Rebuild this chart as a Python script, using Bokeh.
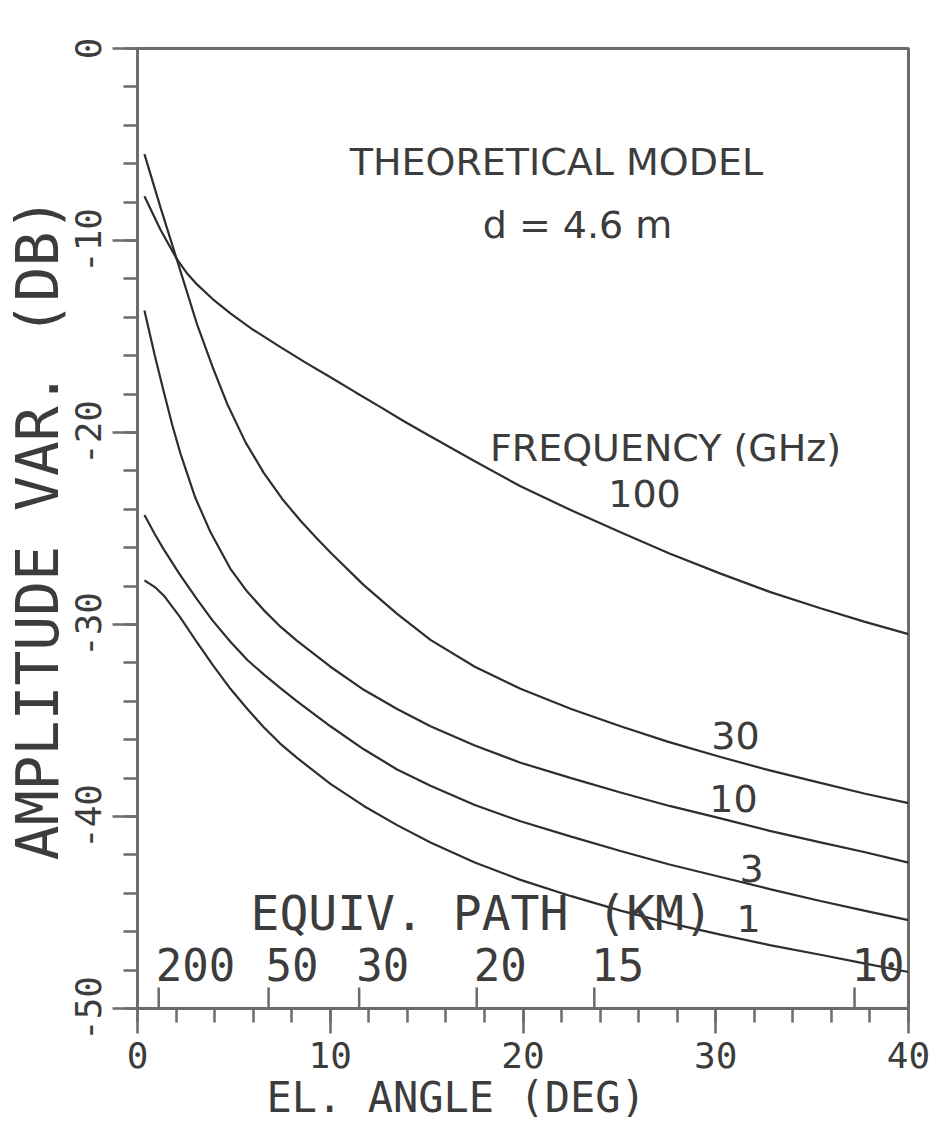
from bokeh.plotting import figure
from bokeh.models import FixedTicker, Range1d, ColumnDataSource, Label, Title
from bokeh.embed import file_html
from bokeh.resources import INLINE
from bokeh.core.properties import value

# ---------------- data ----------------
freq_labels = ["100", "30", "10", "3", "1"]

angle_100 = [0.36, 1.2, 2.06, 2.6, 3.10, 3.9, 4.82, 6.0, 7.42, 8.7, 10.01, 11.3, 12.61, 13.8,
             15.03, 17.5, 19.87, 22.5, 25.06, 27.6, 30.25, 32.8, 35.43, 37.7, 40.0]
var_100 = [-7.7, -9.45, -11.0, -11.75, -12.3, -13.05, -13.8, -14.65, -15.55, -16.35, -17.12, -17.9,
           -18.68, -19.4, -20.1, -21.5, -22.8, -24.05, -25.2, -26.3, -27.35, -28.3, -29.15, -29.85, -30.5]

angle_30 = [0.36, 1.2, 2.06, 3.10, 3.9, 4.65, 5.6, 6.55, 7.5, 8.46, 9.2, 10.01, 11.74, 13.47,
            15.2, 17.5, 19.87, 22.5, 25.06, 27.5, 30.25, 32.8, 35.43, 37.7, 40.0]
var_30 = [-5.5, -8.3, -11.05, -14.4, -16.6, -18.5, -20.5, -22.1, -23.45, -24.6, -25.4, -26.25,
          -27.95, -29.45, -30.8, -32.2, -33.35, -34.4, -35.3, -36.1, -36.9, -37.6, -38.25, -38.8, -39.3]

angle_10 = [0.36, 0.9, 1.37, 1.8, 2.23, 3.0, 3.79, 4.82, 5.7, 6.55, 7.4, 8.28, 10.01, 11.74,
            13.47, 15.2, 17.5, 19.87, 22.5, 25.06, 27.6, 30.25, 32.8, 35.43, 37.7, 40.0]
var_10 = [-13.65, -16.0, -17.9, -19.6, -21.1, -23.4, -25.2, -27.1, -28.3, -29.25, -30.1, -30.85,
          -32.2, -33.4, -34.4, -35.3, -36.3, -37.2, -38.0, -38.75, -39.45, -40.1, -40.75, -41.35,
          -41.85, -42.4]

angle_3 = [0.36, 0.9, 1.37, 2.2, 3.10, 3.9, 4.82, 5.7, 6.55, 7.4, 8.28, 10.01, 11.74, 13.47,
           15.2, 17.5, 19.87, 22.5, 25.06, 27.6, 30.25, 32.8, 35.43, 37.7, 40.0]
var_3 = [-24.3, -25.3, -26.1, -27.4, -28.7, -29.8, -30.9, -31.85, -32.6, -33.3, -34.0, -35.3,
         -36.5, -37.55, -38.4, -39.4, -40.25, -41.05, -41.8, -42.5, -43.15, -43.78, -44.4, -44.9, -45.4]

angle_1 = [0.36, 0.9, 1.37, 2.2, 3.10, 3.9, 4.82, 5.7, 6.55, 7.4, 8.28, 10.01, 11.74, 13.47,
           15.2, 17.5, 19.87, 22.5, 25.06, 27.6, 30.25, 32.8, 35.43, 37.7, 40.0]
var_1 = [-27.7, -28.05, -28.5, -29.6, -30.95, -32.1, -33.35, -34.4, -35.35, -36.2, -36.95, -38.3,
         -39.45, -40.45, -41.35, -42.4, -43.3, -44.15, -44.9, -45.55, -46.15, -46.7, -47.2, -47.65, -48.1]

path_km_labels = ["200", "50", "30", "20", "15", "10"]
path_km_angle = [1.1, 6.8, 11.5, 17.6, 23.7, 37.2]

x_ticks = [0, 10, 20, 30, 40]
y_ticks = [0, -10, -20, -30, -40, -50]

# ---------------- style ----------------
AX = "#6c6c6c"
LN = "#2e2e2e"
TX = "#3c3c3c"
MONO = "DejaVu Sans Mono"
SANS = "DejaVu Sans"

W, H = 945, 1136
BL, BR, BT, BB = 137, 37, 48, 128
p = figure(width=W, height=H, x_range=Range1d(0, 40), y_range=Range1d(-50, 0),
           output_backend="svg", toolbar_location=None,
           min_border_left=BL, min_border_right=BR, min_border_top=BT, min_border_bottom=BB)
p.grid.visible = False
p.background_fill_color = "white"
p.border_fill_color = "white"
p.outline_line_color = AX
p.outline_line_width = 3

px_per_db = (H - BT - BB) / 50.0
px_per_deg = (W - BL - BR) / 40.0


def px_to_x(px):
    return (px - BL) / px_per_deg


def px_to_y(py):
    return -(py - BT) / px_per_db


# x axis
xa = p.xaxis[0]
xa.ticker = FixedTicker(ticks=x_ticks, minor_ticks=list(range(0, 41, 2)))
xa.major_label_overrides = {float(t): str(t) for t in x_ticks}
# y axis
ya = p.yaxis[0]
ya.ticker = FixedTicker(ticks=y_ticks, minor_ticks=list(range(-50, 1, 2)))
ya.major_label_overrides = {float(t): str(t) for t in y_ticks}
ya.major_label_orientation = "vertical"

for ax in (xa, ya):
    ax.axis_line_color = AX
    ax.axis_line_width = 3
    ax.major_tick_line_color = AX
    ax.minor_tick_line_color = AX
    ax.major_tick_line_width = 2.5
    ax.minor_tick_line_width = 2.5
    ax.major_tick_out = 25
    ax.major_tick_in = 0
    ax.minor_tick_out = 14
    ax.minor_tick_in = 0
    ax.major_label_text_font = MONO
    ax.major_label_text_font_size = "36px"
    ax.major_label_text_color = TX
    ax.axis_label_text_font = MONO
    ax.axis_label_text_font_style = "normal"
    ax.axis_label_text_color = TX

xa.major_label_standoff = 8
ya.axis_label = "AMPLITUDE VAR. (DB)"
ya.axis_label_text_font_size = "58px"
ya.major_label_standoff = 12
ya.axis_label_standoff = 0

# x axis title, placed left of centre as in the reference
p.add_layout(Title(text="EL. ANGLE (DEG)", align="left", offset=266 - BL, standoff=0,
                   text_font=MONO, text_font_size="42px", text_font_style="normal",
                   text_color=TX), "below")

# curves
for ang, var in [(angle_100, var_100), (angle_30, var_30), (angle_10, var_10),
                 (angle_3, var_3), (angle_1, var_1)]:
    p.line(ang, var, line_color=LN, line_width=2.2)

# equivalent path scale (ticks pointing up from the x axis)
SHIFT = 0.4  # baseline correction (fraction of font size)
km_src = ColumnDataSource(dict(a=path_km_angle, lab=path_km_labels))
p.segment(x0="a", y0=-50, x1="a", y1=-50 + 21 / px_per_db, source=km_src,
          line_color=AX, line_width=2.5)
p.text(x="a", y=px_to_y(982 - SHIFT * 44), text="lab", source=km_src,
       text_font=value(MONO), text_font_size="44px", text_align="left",
       text_baseline="alphabetic", x_offset=-3, text_color=TX)


# annotations (positions given as reference pixel of centre / baseline)
def lab(px, py, t, font, size, align="center"):
    p.add_layout(Label(x=px_to_x(px), y=px_to_y(py - SHIFT * size), text=t,
                       text_font=font, text_font_size=f"{size}px",
                       text_align=align, text_baseline="alphabetic", text_color=TX))


lab(562, 177, "THEORETICAL  MODEL", SANS, 38)
lab(577, 240, "d = 4.6 m", SANS, 38)
lab(665, 463, "FREQUENCY (GHz)", SANS, 38)
freq_px = [(644, 508), (735, 750), (733, 813), (751, 883), (748, 933)]
for (fx, fy), t in zip(freq_px, freq_labels):
    lab(fx, fy, t, SANS, 38)
lab(250, 932, "EQUIV. PATH (KM)", MONO, 48, align="left")

open("out.html", "w").write(file_html(p, INLINE))
